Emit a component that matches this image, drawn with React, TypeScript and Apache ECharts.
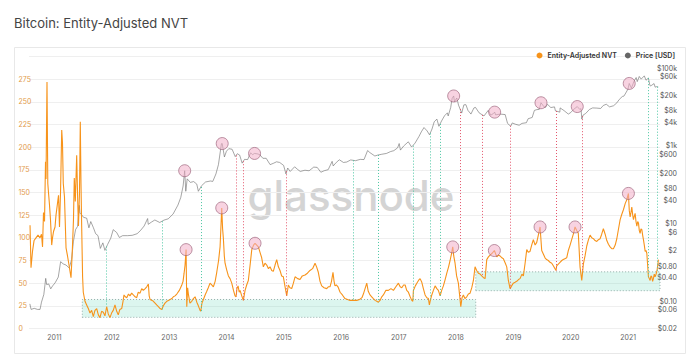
import React, { useEffect, useRef } from "react";
import * as echarts from "echarts";

// ---- Data ----
// Entity-adjusted NVT, times as decimal years
const nvtYears = [
  2010.573, 2010.59, 2010.616, 2010.643, 2010.677, 2010.712, 2010.747, 2010.773, 2010.791, 2010.808, 2010.826, 2010.843, 2010.852, 2010.869, 2010.883, 2010.895, 2010.913, 2010.93, 2010.951, 2010.965, 2010.983,
  2011.009, 2011.026, 2011.056, 2011.07, 2011.087, 2011.105, 2011.126, 2011.139, 2011.153, 2011.174, 2011.201, 2011.227, 2011.253, 2011.288, 2011.31, 2011.331, 2011.345, 2011.363, 2011.387, 2011.405, 2011.418, 2011.436, 2011.45, 2011.462, 2011.474, 2011.49, 2011.502, 2011.532, 2011.561, 2011.59, 2011.619, 2011.648, 2011.677, 2011.706, 2011.736, 2011.765, 2011.793, 2011.822, 2011.851, 2011.88, 2011.91, 2011.938, 2011.968, 2011.996,
  2012.025, 2012.055, 2012.085, 2012.112, 2012.14, 2012.172, 2012.195, 2012.212, 2012.235, 2012.259, 2012.29, 2012.316, 2012.345, 2012.374, 2012.405, 2012.433, 2012.46, 2012.491, 2012.52, 2012.548, 2012.58, 2012.608, 2012.636, 2012.65, 2012.665, 2012.7, 2012.723, 2012.752, 2012.78, 2012.81, 2012.84, 2012.869, 2012.897, 2012.925, 2012.956, 2012.985,
  2013.014, 2013.045, 2013.071, 2013.1, 2013.131, 2013.175, 2013.218, 2013.24, 2013.258, 2013.275, 2013.293, 2013.305, 2013.32, 2013.333, 2013.36, 2013.392, 2013.42, 2013.45, 2013.48, 2013.507, 2013.537, 2013.549, 2013.57, 2013.595, 2013.625, 2013.654, 2013.68, 2013.711, 2013.74, 2013.769, 2013.8, 2013.828, 2013.86, 2013.886, 2013.915, 2013.93, 2013.943, 2013.96, 2013.973,
  2014.0, 2014.031, 2014.06, 2014.09, 2014.12, 2014.147, 2014.165, 2014.18, 2014.2, 2014.22, 2014.235, 2014.264, 2014.292, 2014.322, 2014.35, 2014.379, 2014.41, 2014.439, 2014.47, 2014.496, 2014.525, 2014.554, 2014.583, 2014.612, 2014.641, 2014.67, 2014.7, 2014.73, 2014.758, 2014.787, 2014.815, 2014.845, 2014.874, 2014.903, 2014.932, 2014.96, 2014.99,
  2015.02, 2015.049, 2015.077, 2015.105, 2015.136, 2015.165, 2015.194, 2015.24, 2015.281, 2015.32, 2015.368, 2015.41, 2015.455, 2015.5, 2015.543, 2015.57, 2015.6, 2015.63, 2015.659, 2015.7, 2015.746, 2015.775, 2015.804, 2015.83, 2015.856, 2015.875, 2015.891, 2015.915, 2015.943, 2015.98,
  2016.02, 2016.065, 2016.11, 2016.153, 2016.21, 2016.269, 2016.32, 2016.36, 2016.385, 2016.444, 2016.47, 2016.501, 2016.53, 2016.559, 2016.59, 2016.618, 2016.646, 2016.675, 2016.705, 2016.733, 2016.775, 2016.82, 2016.865, 2016.908, 2016.95, 2016.995,
  2017.025, 2017.054, 2017.085, 2017.112, 2017.14, 2017.169, 2017.2, 2017.228, 2017.246, 2017.256, 2017.29, 2017.316, 2017.345, 2017.373, 2017.403, 2017.43, 2017.46, 2017.49, 2017.518, 2017.535, 2017.548, 2017.577, 2017.605, 2017.635, 2017.665, 2017.692, 2017.722, 2017.75, 2017.779, 2017.81, 2017.839, 2017.87, 2017.896, 2017.92, 2017.943, 2017.96, 2017.983,
  2018.01, 2018.041, 2018.065, 2018.083, 2018.105, 2018.128, 2018.155, 2018.187, 2018.215, 2018.245, 2018.275, 2018.303, 2018.332, 2018.36, 2018.39, 2018.42, 2018.449, 2018.48, 2018.507, 2018.536, 2018.565, 2018.594, 2018.63, 2018.669, 2018.711, 2018.74, 2018.768, 2018.8, 2018.826, 2018.86, 2018.885, 2018.913, 2018.943, 2018.97,
  2019.0, 2019.03, 2019.059, 2019.09, 2019.117, 2019.15, 2019.175, 2019.205, 2019.234, 2019.26, 2019.291, 2019.32, 2019.349, 2019.38, 2019.408, 2019.44, 2019.466, 2019.495, 2019.525, 2019.553, 2019.58, 2019.61, 2019.64, 2019.67, 2019.7, 2019.727, 2019.745, 2019.756, 2019.785, 2019.814, 2019.845, 2019.871, 2019.9, 2019.931, 2019.959, 2019.99,
  2020.018, 2020.05, 2020.076, 2020.105, 2020.133, 2020.163, 2020.193, 2020.221, 2020.25, 2020.28, 2020.31, 2020.338, 2020.367, 2020.396, 2020.425, 2020.454, 2020.483, 2020.512, 2020.54, 2020.569, 2020.6, 2020.629, 2020.657, 2020.686, 2020.715, 2020.744, 2020.775, 2020.803, 2020.833, 2020.861, 2020.89, 2020.918, 2020.95, 2020.977,
  2021.005, 2021.02, 2021.035, 2021.05, 2021.064, 2021.08, 2021.093, 2021.108, 2021.122, 2021.137, 2021.152, 2021.167, 2021.181, 2021.195, 2021.209, 2021.224, 2021.239, 2021.253, 2021.267, 2021.282, 2021.297, 2021.312, 2021.326, 2021.34, 2021.354, 2021.369, 2021.384, 2021.398, 2021.413, 2021.427, 2021.441, 2021.456, 2021.47, 2021.488, 2021.505, 2021.528,
];
const nvtValues = [
  114, 67, 85, 97, 100, 103, 100, 104, 90, 128, 118, 184, 165, 272, 160, 150, 136, 120, 92, 100, 107,
  112, 125, 140, 147, 112, 150, 219, 205, 160, 145, 89, 80, 70, 56, 85, 120, 166, 140, 191, 140, 113, 150, 228, 160, 113, 57, 40, 30, 26, 22, 17, 20, 13, 20, 22, 15, 12, 19, 18, 14, 24, 16, 12, 17,
  20, 26, 19, 15, 21, 22, 30, 37, 35, 34, 38, 36, 39, 37, 35, 34, 40, 39, 44, 42, 44, 46, 49, 36, 32, 31, 30, 28, 26, 24, 22, 21, 25, 28, 30, 31,
  32, 33, 35, 36, 38, 42, 48, 52, 61, 70, 87, 24, 45, 38, 28, 30, 33, 35, 29, 25, 20, 19, 28, 32, 37, 41, 45, 50, 48, 46, 52, 62, 75, 90, 133, 110, 100, 80, 72,
  65, 58, 55, 50, 42, 36, 35, 44, 47, 40, 42, 36, 31, 42, 48, 53, 70, 87, 92, 94, 92, 90, 84, 78, 68, 72, 70, 66, 68, 64, 63, 70, 76, 68, 64, 58, 57,
  46, 36, 48, 45, 44, 50, 57, 55, 54, 58, 59, 61, 64, 66, 72, 68, 62, 52, 47, 45, 44, 46, 46, 52, 62, 52, 47, 48, 46, 40,
  37, 33, 32, 31, 31, 31, 32, 34, 38, 50, 41, 37, 35, 33, 31, 30, 29, 31, 35, 37, 42, 42, 44, 42, 46, 50,
  46, 45, 48, 48, 42, 40, 35, 31, 30, 42, 47, 50, 53, 55, 51, 44, 37, 34, 33, 26, 30, 37, 42, 47, 44, 42, 36, 42, 47, 54, 61, 68, 75, 82, 90, 80, 72,
  58, 50, 35, 24, 34, 37, 33, 35, 38, 39, 45, 53, 68, 64, 61, 60, 58, 56, 55, 76, 79, 81, 83, 86, 79, 81, 80, 78, 77, 72, 68, 53, 44, 47,
  50, 51, 52, 54, 55, 60, 58, 72, 87, 84, 85, 92, 98, 92, 95, 104, 112, 86, 82, 78, 76, 75, 73, 72, 69, 66, 64, 69, 71, 73, 75, 76, 77, 78, 86, 92,
  98, 105, 112, 108, 105, 68, 53, 71, 80, 91, 98, 103, 100, 99, 97, 96, 98, 99, 104, 110, 104, 97, 93, 90, 88, 88, 92, 99, 110, 120, 126, 131, 138, 142,
  149, 130, 123, 128, 134, 125, 120, 124, 127, 118, 113, 118, 116, 108, 105, 110, 109, 103, 98, 92, 85, 86, 83, 70, 57, 55, 53, 58, 57, 52, 55, 60, 57, 60, 64, 76,
];

// Price [USD]
const priceDates = [
  "2010-07-28", "2010-08-05", "2010-08-25", "2010-09-15", "2010-10-01", "2010-10-10", "2010-10-25", "2010-11-06", "2010-11-12", "2010-11-25", "2010-12-08", "2010-12-20",
  "2011-01-05", "2011-01-25", "2011-02-09", "2011-02-25", "2011-03-15", "2011-04-05", "2011-04-20", "2011-05-01", "2011-05-15", "2011-05-28", "2011-06-08", "2011-06-12", "2011-06-20", "2011-07-05", "2011-07-25", "2011-08-08", "2011-08-20", "2011-09-05", "2011-09-20", "2011-10-05", "2011-10-20", "2011-11-05", "2011-11-18", "2011-12-05", "2011-12-25",
  "2012-01-10", "2012-02-01", "2012-02-18", "2012-03-10", "2012-04-10", "2012-05-10", "2012-06-10", "2012-07-01", "2012-07-25", "2012-08-16", "2012-08-20", "2012-09-10", "2012-10-01", "2012-11-01", "2012-11-28", "2012-12-25",
  "2013-01-25", "2013-02-25", "2013-03-15", "2013-03-30", "2013-04-09", "2013-04-16", "2013-04-25", "2013-05-15", "2013-06-05", "2013-06-25", "2013-07-05", "2013-07-25", "2013-08-20", "2013-09-20", "2013-10-05", "2013-10-25", "2013-11-10", "2013-11-29", "2013-12-04", "2013-12-18", "2013-12-31",
  "2014-01-15", "2014-02-05", "2014-02-25", "2014-03-10", "2014-03-25", "2014-04-10", "2014-04-25", "2014-05-15", "2014-06-03", "2014-06-15", "2014-06-28", "2014-07-20", "2014-08-01", "2014-08-20", "2014-09-10", "2014-10-05", "2014-10-25", "2014-11-15", "2014-12-05", "2014-12-30",
  "2015-01-14", "2015-01-25", "2015-02-10", "2015-03-10", "2015-03-31", "2015-04-15", "2015-05-15", "2015-06-10", "2015-07-10", "2015-08-01", "2015-08-24", "2015-09-15", "2015-10-10", "2015-11-04", "2015-11-11", "2015-12-01", "2015-12-20",
  "2016-01-15", "2016-02-05", "2016-03-01", "2016-04-01", "2016-05-01", "2016-05-25", "2016-06-17", "2016-07-01", "2016-08-02", "2016-08-20", "2016-09-15", "2016-10-15", "2016-11-10", "2016-12-01", "2016-12-25",
  "2017-01-04", "2017-01-12", "2017-02-01", "2017-03-03", "2017-03-24", "2017-04-15", "2017-05-10", "2017-05-25", "2017-06-11", "2017-07-01", "2017-07-16", "2017-08-01", "2017-08-15", "2017-09-01", "2017-09-14", "2017-10-01", "2017-10-20", "2017-11-07", "2017-11-12", "2017-11-28", "2017-12-07", "2017-12-17", "2017-12-22",
  "2018-01-06", "2018-01-17", "2018-02-06", "2018-02-20", "2018-03-05", "2018-03-18", "2018-04-06", "2018-04-25", "2018-05-05", "2018-05-28", "2018-06-28", "2018-07-25", "2018-08-10", "2018-08-25", "2018-09-04", "2018-09-10", "2018-10-10", "2018-11-10", "2018-11-25", "2018-12-15", "2018-12-25",
  "2019-01-15", "2019-02-07", "2019-02-25", "2019-03-25", "2019-04-05", "2019-05-01", "2019-05-15", "2019-05-31", "2019-06-15", "2019-06-26", "2019-07-15", "2019-07-25", "2019-08-06", "2019-08-28", "2019-09-20", "2019-09-26", "2019-10-24", "2019-10-26", "2019-11-20", "2019-12-17",
  "2020-01-01", "2020-01-20", "2020-02-12", "2020-02-28", "2020-03-07", "2020-03-12", "2020-03-20", "2020-04-05", "2020-04-30", "2020-05-20", "2020-06-15", "2020-07-10", "2020-07-27", "2020-08-15", "2020-09-05", "2020-09-30", "2020-10-21", "2020-11-05", "2020-11-25", "2020-12-05", "2020-12-17", "2020-12-31",
  "2021-01-08", "2021-01-22", "2021-02-08", "2021-02-21", "2021-02-28", "2021-03-13", "2021-03-25", "2021-04-14", "2021-04-25", "2021-05-10", "2021-05-19", "2021-05-23", "2021-06-01", "2021-06-15", "2021-06-22", "2021-07-01", "2021-07-12",
];
const priceValues = [
  0.086, 0.062, 0.066, 0.062, 0.062, 0.095, 0.15, 0.39, 0.27, 0.28, 0.21, 0.25,
  0.3, 0.42, 1.05, 0.92, 0.86, 0.72, 1.2, 3.4, 7.0, 8.5, 29.6, 18.5, 17.5, 14.5, 13.8, 7.8, 11.3, 8.0, 5.5, 4.9, 2.3, 3.2, 2.05, 2.9, 4.2,
  7.0, 5.9, 4.4, 4.9, 4.9, 5.0, 5.5, 6.6, 8.7, 13.5, 9.6, 11.0, 12.4, 10.7, 12.3, 13.3,
  17.6, 30, 47, 93, 230, 68, 142, 115, 121, 104, 68, 94, 118, 125, 122, 190, 330, 1140, 1150, 520, 730,
  850, 820, 530, 630, 580, 360, 450, 445, 665, 595, 640, 620, 590, 480, 480, 330, 355, 390, 375, 315,
  190, 270, 220, 290, 245, 220, 237, 229, 285, 280, 210, 230, 245, 400, 305, 377, 440,
  375, 385, 435, 417, 450, 445, 760, 675, 550, 580, 610, 640, 715, 755, 895,
  1150, 780, 990, 1275, 935, 1180, 1750, 2300, 2970, 2430, 1930, 2720, 4170, 4900, 3200, 4400, 5980, 7100, 5900, 9700, 16600, 19300, 13800,
  17100, 11200, 7000, 11400, 11500, 8200, 6600, 9500, 9800, 7100, 5900, 8200, 6200, 6700, 7400, 6300, 6600, 6400, 3800, 3200, 3900,
  3600, 3400, 3800, 3950, 5000, 5400, 8200, 8600, 8700, 12900, 10200, 9800, 11800, 9700, 10100, 8000, 7400, 9500, 8100, 6600,
  7200, 8700, 10300, 8700, 9100, 4900, 6200, 6800, 8700, 9500, 9400, 9200, 11000, 11800, 10100, 10800, 12800, 15600, 18700, 19100, 23000, 29000,
  40500, 30800, 46400, 57500, 45200, 61200, 52300, 63500, 49000, 56000, 37000, 34700, 36600, 40200, 32500, 33500, 32800,
];

// Annotations
const nvtPeakYears = [2013.293, 2013.915, 2014.496, 2017.943, 2018.669, 2019.466, 2020.076, 2021.005];
const pricePeakDates = ["2013-04-09", "2013-12-04", "2014-06-28", "2017-12-17", "2018-09-04", "2019-06-26", "2020-02-12", "2021-01-08"];
const topSignalYears = [2014.165, 2014.292, 2015.049, 2018.071, 2018.459, 2018.943, 2019.745, 2020.21];
const bottomSignalYears = [2011.91, 2012.869, 2013.549, 2016.21, 2016.646, 2017.246, 2017.548, 2017.722, 2021.354, 2021.5];
const zoneStartYears = [2011.485, 2018.344];
const zoneEndYears = [2018.344, 2021.575];
const zoneLows = [12.3, 41.7];
const zoneHighs = [32, 62.5];

// Axes
const yearTicks = [2011, 2012, 2013, 2014, 2015, 2016, 2017, 2018, 2019, 2020, 2021];
const nvtTicks = [0, 25, 50, 75, 100, 125, 150, 175, 200, 225, 250, 275];
const priceTicks = [0.02, 0.06, 0.1, 0.4, 0.8, 2, 6, 10, 40, 80, 200, 600, 1000, 4000, 8000, 20000, 60000, 100000];
const NVT_MAX = 300;
const PRICE_MIN = 0.02;
const PRICE_MAX = 200000;
const X_MIN_YEAR = 2010.555;
const X_MAX_YEAR = 2021.556;

// ---- helpers ----
function yearToTs(t: number) {
  const y = Math.floor(t);
  const a = Date.UTC(y, 0, 1);
  const b = Date.UTC(y + 1, 0, 1);
  return a + (t - y) * (b - a);
}
function dateToTs(s: string) {
  const [y, m, d] = s.split("-").map(Number);
  return Date.UTC(y, m - 1, d);
}
function interp(xs: number[], ys: number[], x: number, log: boolean) {
  if (x <= xs[0]) return ys[0];
  for (let i = 1; i < xs.length; i++) {
    if (x <= xs[i]) {
      const f = (x - xs[i - 1]) / (xs[i] - xs[i - 1]);
      if (log) return Math.exp(Math.log(ys[i - 1]) + f * (Math.log(ys[i]) - Math.log(ys[i - 1])));
      return ys[i - 1] + f * (ys[i] - ys[i - 1]);
    }
  }
  return ys[ys.length - 1];
}
const nvtToPriceAxis = (v: number) => PRICE_MIN * Math.pow(PRICE_MAX / PRICE_MIN, v / NVT_MAX);
function fmtPrice(v: number) {
  if (v >= 1000) return "$" + Math.round(v / 1000) + "k";
  if (v < 1) return "$" + v.toFixed(2);
  return "$" + Math.round(v);
}

const FONT = "Inter";
const ORANGE = "#f7931a";
const GRAY = "#6a6a6a";
const GREEN = "#4cc7a3";
const RED = "#e4566c";

export default function App() {
  const ref = useRef<HTMLDivElement>(null);
  useEffect(() => {
    if (!ref.current) return;
    const chart = echarts.init(ref.current, null, { renderer: "svg" });
    const nvtTs = nvtYears.map(yearToTs);
    const priceTs = priceDates.map(dateToTs);
    const nvtAt = (ts: number) => interp(nvtTs, nvtValues, ts, false);
    const priceAt = (ts: number) => interp(priceTs, priceValues, ts, true);

    const signalLine = (t: number, color: string) => {
      const ts = yearToTs(t);
      return [
        { coord: [ts, priceAt(ts)], lineStyle: { color } },
        { coord: [ts, nvtToPriceAxis(nvtAt(ts))] },
      ];
    };

    const circleStyle = {
      color: "rgba(243, 175, 200, 0.55)",
      borderColor: "rgba(150, 90, 115, 0.8)",
      borderWidth: 0.8,
    };

    chart.setOption({
      animation: false,
      backgroundColor: "#ffffff",
      textStyle: { fontFamily: FONT },
      title: {
        text: "Bitcoin: Entity-Adjusted NVT",
        left: 9,
        top: 11,
        textStyle: { fontSize: 13, fontWeight: "normal", color: "#444", fontFamily: FONT },
      },
      legend: {
        right: 20,
        top: 47,
        icon: "circle",
        itemWidth: 6,
        itemHeight: 6,
        itemGap: 8,
        textStyle: { fontSize: 7, fontWeight: 600, color: "#333", fontFamily: FONT },
        data: ["Entity-Adjusted NVT", "Price [USD]"],
      },
      graphic: [
        {
          type: "rect",
          z: -1,
          shape: { x: 14.5, y: 47.5, width: 671, height: 306 },
          style: { fill: "transparent", stroke: "#e8e8e8", lineWidth: 1 },
        },
        {
          type: "text",
          z: 0,
          x: 351,
          y: 195,
          style: {
            text: "glassnode",
            font: "500 42px Inter",
            fill: "#d4d4d4",
            align: "center",
            verticalAlign: "middle",
          },
        },
      ],
      grid: { left: 29, right: 40, top: 56.5, bottom: 31.5 },
      xAxis: {
        type: "value",
        min: yearToTs(X_MIN_YEAR),
        max: yearToTs(X_MAX_YEAR),
        axisLine: { show: false },
        axisTick: { show: false },
        splitLine: { show: false },
        axisLabel: {
          customValues: yearTicks.map((y) => Date.UTC(y, 0, 1)),
          formatter: (v: number) => String(new Date(v).getUTCFullYear()),
          fontSize: 7,
          color: "#666",
          margin: 5,
          fontFamily: FONT,
        },
      },
      yAxis: [
        {
          type: "value",
          min: 0,
          max: NVT_MAX,
          interval: 25,
          axisLine: { show: false },
          axisTick: { show: false },
          splitLine: { show: true, lineStyle: { color: "#efefef", width: 1 } },
          axisLabel: {
            customValues: nvtTicks,
            align: "left",
            margin: 10.5,
            fontSize: 7,
            color: "#e29a48",
            padding: [0, 0, 6, 0],
            fontFamily: FONT,
          },
        },
        {
          type: "log",
          logBase: 10,
          min: PRICE_MIN,
          max: PRICE_MAX,
          position: "right",
          axisLine: { show: false },
          axisTick: { show: false },
          splitLine: { show: false },
          axisLabel: {
            customValues: priceTicks,
            formatter: (v: number) => fmtPrice(v),
            align: "right",
            margin: 17,
            fontSize: 7,
            color: "#555",
            padding: [0, 0, 6, 0],
            fontFamily: FONT,
          },
        },
      ],
      series: [
        {
          name: "Entity-Adjusted NVT",
          type: "line",
          yAxisIndex: 0,
          showSymbol: false,
          symbol: "none",
          z: 3,
          lineStyle: { color: ORANGE, width: 1.1 },
          itemStyle: { color: ORANGE },
          data: nvtTs.map((ts, i) => [ts, nvtValues[i]]),
          markArea: {
            silent: true,
            itemStyle: {
              color: "rgba(96, 212, 182, 0.22)",
              borderColor: "#7f9c95",
              borderWidth: 0.8,
              borderType: [1, 2],
            },
            label: { show: false },
            data: zoneStartYears.map((s, i) => [
              { coord: [yearToTs(s), zoneLows[i]] },
              { coord: [yearToTs(zoneEndYears[i]), zoneHighs[i]] },
            ]),
          },
          markPoint: {
            silent: true,
            symbol: "circle",
            symbolSize: 12,
            label: { show: false },
            itemStyle: circleStyle,
            data: nvtPeakYears.map((t) => {
              const ts = yearToTs(t);
              return { coord: [ts, nvtAt(ts)] };
            }),
          },
        },
        {
          name: "Price [USD]",
          type: "line",
          yAxisIndex: 1,
          showSymbol: false,
          symbol: "none",
          z: 2,
          lineStyle: { color: GRAY, width: 0.6 },
          itemStyle: { color: "#666" },
          data: priceTs.map((ts, i) => [ts, priceValues[i]]),
          markLine: {
            silent: true,
            symbol: ["none", "none"],
            label: { show: false },
            lineStyle: { type: [1, 2], width: 1 },
            data: [
              ...bottomSignalYears.map((t) => signalLine(t, GREEN)),
              ...topSignalYears.map((t) => signalLine(t, RED)),
            ],
          },
          markPoint: {
            silent: true,
            symbol: "circle",
            symbolSize: 12,
            label: { show: false },
            itemStyle: circleStyle,
            data: pricePeakDates.map((d) => {
              const ts = dateToTs(d);
              return { coord: [ts, priceAt(ts)] };
            }),
          },
        },
      ],
    });
    return () => chart.dispose();
  }, []);
  return (
    <div
      ref={ref}
      style={{ position: "fixed", left: 0, top: 0, width: 700, height: 360, background: "#fff" }}
    />
  );
}
